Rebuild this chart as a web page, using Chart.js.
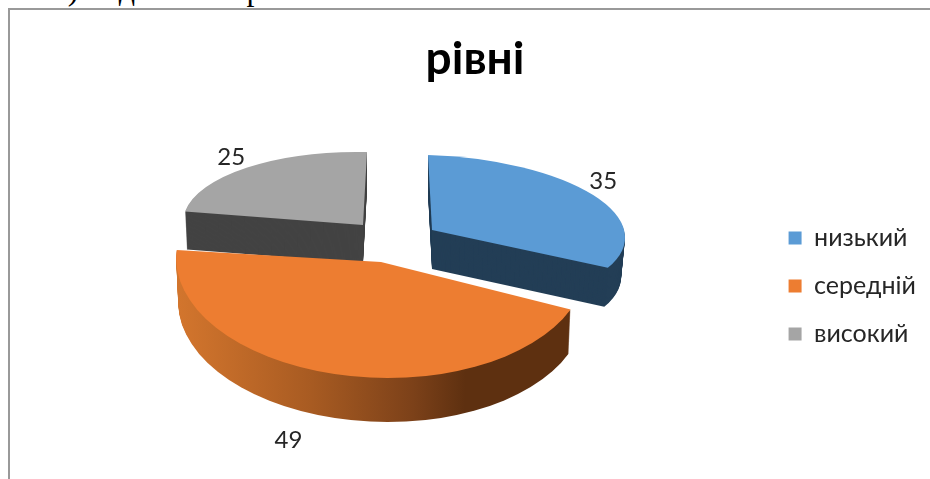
<!DOCTYPE html>
<html lang="uk">
<head>
<meta charset="UTF-8">
<title>рівні</title>
<script src="https://cdn.jsdelivr.net/npm/chart.js"></script>
<style>
    html, body { margin: 0; height: 100%; background: #fff; overflow: hidden; }
    #line {
        position: absolute; left: -1px; top: -29px; z-index: 2;
        font: 32px "Liberation Serif", serif; color: #000; white-space: nowrap;
    }
    #frame {
        position: absolute; left: 8px; top: 8px;
        border-left: 2px solid #999; border-top: 2px solid #999;
    }
    canvas { display: block; }
</style>
</head>
<body>
<div id="line">за ін.) подаємо на рис.1.</div>
<div id="frame"><canvas id="pie" width="936" height="540"></canvas></div>
<script>
    const chartTitle = 'рівні';
    const categories = ['низький', 'середній', 'високий'];
    const values = [35, 49, 25];
    const sliceColors = ['#5b9bd5', '#ed7d31', '#a5a5a5'];
    const wallColors = ['#233e56', null, '#434343'];
    const font = 'Lato, "Open Sans", sans-serif';

    // Excel's tilted 3D pie: each slice gets its own flat projection (canvas coords, frame offset removed)
    // taper narrows the bottom of the wall a little, like the perspective in the original
    const views = [
        { tx: 422, ty: 220, a: 193, b: 6, c: 4, d: 75, depth: 39, taper: 0.98, label: [10, -14] },
        { tx: 371, ty: 252, a: 204.5, b: -3, c: 12, d: 116, depth: 44, taper: 0.99, label: [-46, 66] },
        { tx: 353, ty: 215, a: 180, b: 4, c: -4, d: 73, depth: 38, taper: 0.99, label: [-16, -10] }
    ];
    const drawOrder = [2, 0, 1];

    function project(arc, view, ctx, dy) {
        const R = arc.outerRadius;
        const k = 1 - (1 - view.taper) * dy / view.depth;
        ctx.translate(view.tx, view.ty + dy);
        ctx.transform(k * view.a / R, view.b / R, k * view.c / R, view.d / R, 0, 0);
        ctx.translate(-arc.x, -arc.y);
    }

    function orangeWall(ctx, arc) {
        const g = ctx.createLinearGradient(arc.x - arc.outerRadius, 0, arc.x + arc.outerRadius, 0);
        g.addColorStop(0, '#d2752d');
        g.addColorStop(0.3, '#a85b22');
        g.addColorStop(0.55, '#7c4119');
        g.addColorStop(0.68, '#5e3010');
        g.addColorStop(1, '#5e3010');
        return g;
    }

    const pie3d = {
        id: 'pie3d',
        beforeDatasetsDraw(chart) {
            const ctx = chart.ctx;
            const arcs = chart.getDatasetMeta(0).data;
            drawOrder.forEach(i => {
                const arc = arcs[i], view = views[i];
                const wall = Object.create(arc);
                wall.options = Object.assign({}, arc.options, {
                    backgroundColor: wallColors[i] || orangeWall(ctx, arc)
                });
                for (let dy = view.depth; dy > 0; dy--) {
                    ctx.save();
                    project(arc, view, ctx, dy);
                    wall.draw(ctx);
                    ctx.restore();
                }
                ctx.save();
                project(arc, view, ctx, 0);
                arc.draw(ctx);
                ctx.restore();
            });
            // value labels, just outside each slice
            ctx.save();
            ctx.font = '24px ' + font;
            ctx.fillStyle = '#262626';
            ctx.textAlign = 'center';
            ctx.textBaseline = 'middle';
            arcs.forEach((arc, i) => {
                const view = views[i];
                const mid = (arc.startAngle + arc.endAngle) / 2;
                const u = Math.cos(mid), v = Math.sin(mid);
                const x = view.tx + view.a * u + view.c * v + view.label[0];
                const y = view.ty + view.b * u + view.d * v + view.label[1];
                ctx.fillText(String(values[i]), x, y);
            });
            ctx.restore();
            return false;
        }
    };

    new Chart(document.getElementById('pie'), {
        type: 'pie',
        data: {
            labels: categories,
            datasets: [{ data: values, backgroundColor: sliceColors, borderWidth: 0 }]
        },
        options: {
            responsive: false,
            animation: false,
            layout: { padding: { top: 12, left: 14, right: 20, bottom: 0 } },
            plugins: {
                tooltip: { enabled: false },
                title: {
                    display: true,
                    text: chartTitle,
                    color: '#000',
                    font: { family: font, size: 46, weight: 'bold' }
                },
                legend: {
                    position: 'right',
                    labels: {
                        boxWidth: 13,
                        boxHeight: 13,
                        padding: 23,
                        color: '#262626',
                        font: { family: font, size: 25 }
                    }
                }
            }
        },
        plugins: [pie3d]
    });
</script>
</body>
</html>
